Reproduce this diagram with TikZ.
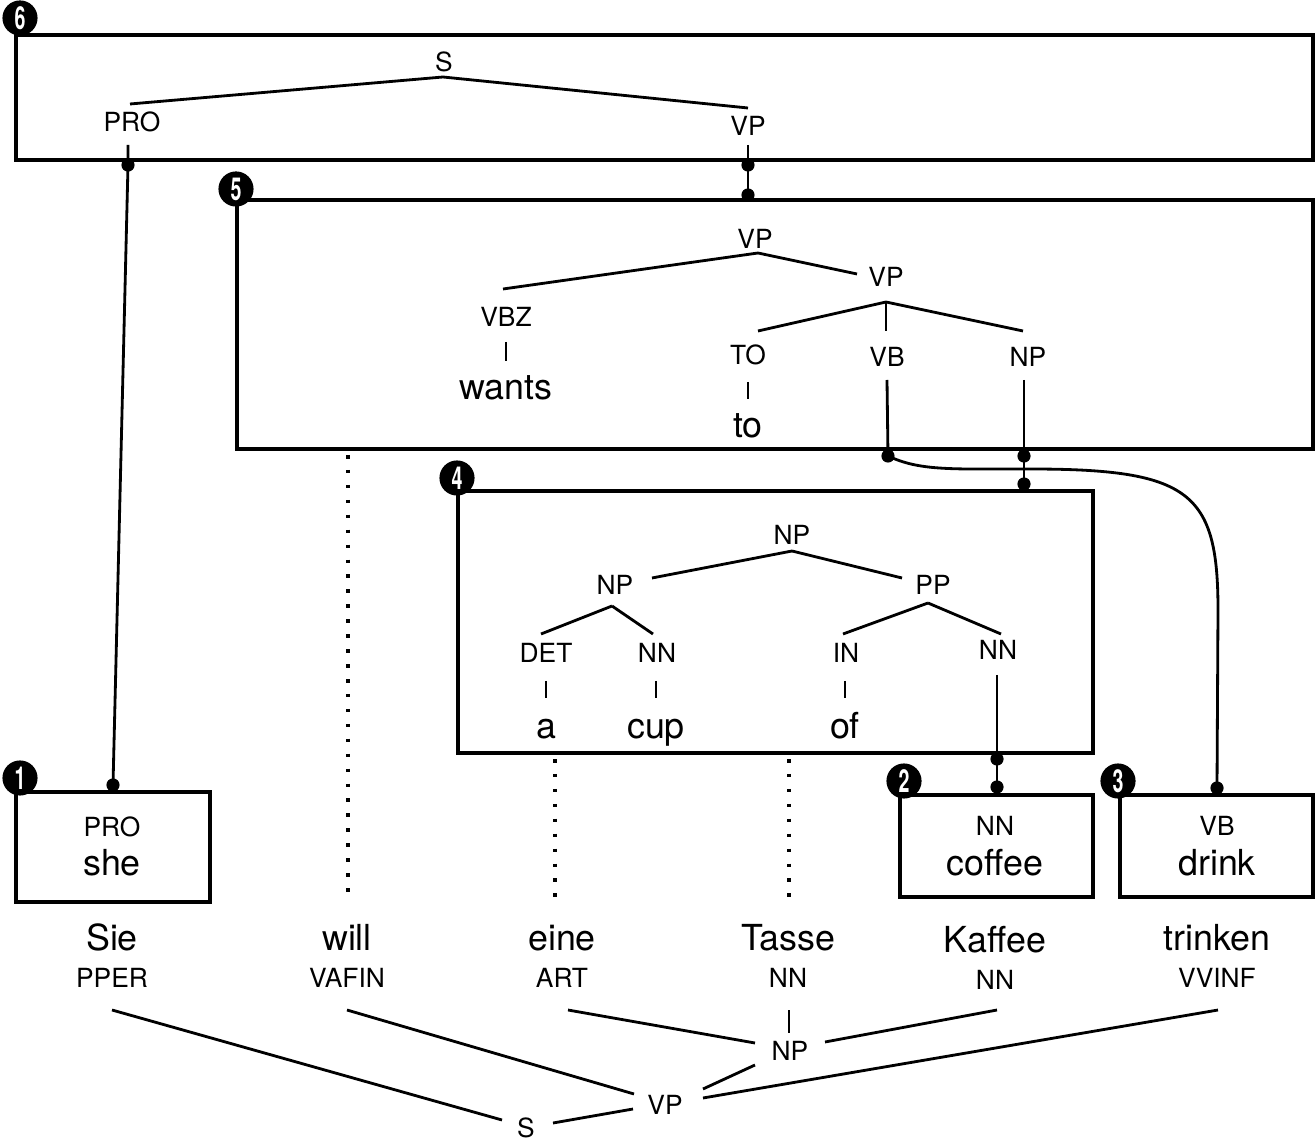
\documentclass[tikz,border=0pt]{standalone}
\usepackage{fontspec}
\setmainfont{TeX Gyre Heros}
\usetikzlibrary{calc}
\begin{document}
\begin{tikzpicture}[x=0.02cm,y=-0.02cm,
  lab/.style={anchor=base,inner sep=0pt,font=\fontsize{15}{18}\selectfont},
  wrd/.style={anchor=base,inner sep=0pt,font=\fontsize{20.4}{24}\selectfont},
  box/.style={draw,line width=1.9pt},
  edge/.style={line width=1.6pt},
  dotl/.style={line width=1.8pt,dash pattern=on 2pt off 6.5pt},
  numc/.style={circle,fill=black,text=white,minimum size=20pt,inner sep=0pt,font=\fontsize{18}{18}\selectfont\bfseries},
  dot/.style={circle,fill=black,minimum size=7.5pt,inner sep=0pt}]
\useasboundingbox (0,0) rectangle (1315,1141);

% ---------- boxes ----------
\draw[box] (16,35) rectangle (1313,160);
\draw[box] (237,200) rectangle (1313,449);
\draw[box] (458,491) rectangle (1093,753);
\draw[box] (16,792) rectangle (210,902);
\draw[box] (900,795) rectangle (1093,897);
\draw[box] (1120,795) rectangle (1313,897);
\node[numc] (c6) at (20,18) {\scalebox{0.62}[1]{6}};
\node[numc] (c5) at (236,189) {\scalebox{0.62}[1]{5}};
\node[numc] (c4) at (457,478) {\scalebox{0.62}[1]{4}};
\node[numc] (c1) at (20,778) {\scalebox{0.62}[1]{1}};
\node[numc] (c2) at (904,781) {\scalebox{0.62}[1]{2}};
\node[numc] (c3) at (1118,781) {\scalebox{0.62}[1]{3}};

% ---------- box 6 ----------
\node[lab] (s6) at (444,72) {S};
\node[lab] (pro6) at (132,132) {PRO};
\node[lab] (vp6) at (748,136) {VP};
\draw[edge] ($(s6.base)+(-1,5)$) -- ($(pro6.base)+(-2,-28)$);
\draw[edge] ($(s6.base)+(-1,5)$) -- ($(vp6.base)+(0,-28)$);

% ---------- box 5 ----------
\node[lab] (vp5a) at (755,249) {VP};
\node[lab] (vp5b) at (886,287) {VP};
\node[lab] (vbz) at (506,327) {VBZ};
\node[wrd] (wants) at (506,400) {wants};
\node[lab] (to5) at (748,365) {TO};
\node[wrd] (to) at (748,438) {to};
\node[lab] (vb5) at (887,367) {VB};
\node[lab] (np5) at (1028,367) {NP};
\draw[edge] ($(vp5a.base)+(3,4)$) -- ($(vbz.base)+(-3,-38)$);
\draw[edge] ($(vp5a.base)+(3,4)$) -- ($(vp5b.base)+(-29,-13)$);
\draw[edge] ($(vp5b.base)+(0,15)$) -- ($(to5.base)+(10,-34)$);
\draw[edge] ($(vp5b.base)+(0,15)$) -- ($(vb5.base)+(-1,-36)$);
\draw[edge] ($(vp5b.base)+(0,15)$) -- ($(np5.base)+(-5,-36)$);
\draw[edge] ($(vbz.base)+(0,15)$) -- ($(vbz.base)+(0,34)$);
\draw[edge] ($(to5.base)+(0,17)$) -- ($(to5.base)+(0,34)$);

% ---------- box 4 ----------
\node[lab] (np4) at (792,545) {NP};
\node[lab] (np4b) at (615,595) {NP};
\node[lab] (pp) at (933,595) {PP};
\node[lab] (det) at (546,663) {DET};
\node[lab] (nn4) at (657,663) {NN};
\node[lab] (in) at (846,663) {IN};
\node[lab] (nn4b) at (998,660) {NN};
\node[wrd] (a) at (546,738) {a};
\node[wrd] (cup) at (656,738) {cup};
\node[wrd] (of) at (845,738) {of};
\draw[edge] ($(np4.base)+(0,6)$) -- ($(np4b.base)+(37,-17)$);
\draw[edge] ($(np4.base)+(0,6)$) -- ($(pp.base)+(-31,-17)$);
\draw[edge] ($(np4b.base)+(-3,11)$) -- ($(det.base)+(-5,-29)$);
\draw[edge] ($(np4b.base)+(-3,11)$) -- ($(nn4.base)+(-4,-29)$);
\draw[edge] ($(pp.base)+(-5,8)$) -- ($(in.base)+(-3,-29)$);
\draw[edge] ($(pp.base)+(-5,8)$) -- ($(nn4b.base)+(3,-26)$);
\draw[edge] ($(det.base)+(0,18)$) -- ($(det.base)+(0,35)$);
\draw[edge] ($(nn4.base)+(-1,18)$) -- ($(nn4.base)+(-1,35)$);
\draw[edge] ($(in.base)+(-1,18)$) -- ($(in.base)+(-1,35)$);

% ---------- boxes 1-3 ----------
\node[lab] (pro1) at (112,836) {PRO};
\node[wrd] (she) at (112,875) {she};
\node[lab] (nn2) at (995,835) {NN};
\node[wrd] (coffee) at (995,875) {coffee};
\node[lab] (vb3) at (1217,835) {VB};
\node[wrd] (drink) at (1217,875) {drink};

% ---------- links between boxes ----------
\node[dot] (dpro6) at (128,165) {};
\node[dot] (dpro1) at (113,785) {};
\node[dot] (dvp6) at (748,165) {};
\node[dot] (dvp5) at (748,195) {};
\node[dot] (dvb5) at (888,456) {};
\node[dot] (dnp5) at (1024,456) {};
\node[dot] (dnp4) at (1024,484) {};
\node[dot] (dnn4) at (997,759) {};
\node[dot] (dnn2) at (997,787) {};
\node[dot] (dvb3) at (1217,788) {};
\draw[edge] ($(pro6.base)+(-4,13)$) -- (dpro6.center) -- (dpro1.center);
\draw[edge] ($(vp6.base)+(0,9)$) -- (dvp6.center) -- (dvp5.center);
\draw[edge] ($(vb5.base)+(0,13)$) -- (dvb5.center);
\draw[edge] ($(np5.base)+(-4,13)$) -- (dnp5.center) -- (dnp4.center);
\draw[edge] ($(nn4b.base)+(-1,15)$) -- (dnn4.center) -- (dnn2.center);
\draw[edge] (dvb5.center) .. controls (920,471) and (950,469) .. (1030,469)
  .. controls (1190,469) and (1218,492) .. (1218,610) -- (dvb3.center);

% ---------- German sentence ----------
\node[wrd] (sie) at (112,950) {Sie};
\node[lab] (pper) at (112,987) {PPER};
\node[wrd] (will) at (347,950) {will};
\node[lab] (vafin) at (347,987) {VAFIN};
\node[wrd] (eine) at (562,950) {eine};
\node[lab] (art) at (562,987) {ART};
\node[wrd] (tasse) at (788,950) {Tasse};
\node[lab] (nnt) at (788,987) {NN};
\node[wrd] (kaffee) at (995,952) {Kaffee};
\node[lab] (nnk) at (995,989) {NN};
\node[wrd] (trinken) at (1217,950) {trinken};
\node[lab] (vvinf) at (1217,987) {VVINF};

% dotted alignment lines
\draw[dotl] (348,455) -- ($(will.base)+(1,-53)$);
\draw[dotl] (555,759) -- ($(eine.base)+(-7,-53)$);
\draw[dotl] (789,759) -- ($(tasse.base)+(1,-53)$);

% ---------- bottom tree ----------
\node[lab] (sb) at (526,1137) {S};
\node[lab] (vpb) at (665,1114) {VP};
\node[lab] (npb) at (790,1060) {NP};
\draw[edge] ($(pper.base)+(0,23)$) -- ($(sb.base)+(-24,-17)$);
\draw[edge] ($(vafin.base)+(0,23)$) -- ($(vpb.base)+(-31,-20)$);
\draw[edge] ($(art.base)+(6,23)$) -- ($(npb.base)+(-35,-17)$);
\draw[edge] ($(nnt.base)+(1,23)$) -- ($(npb.base)+(-1,-27)$);
\draw[edge] ($(nnk.base)+(2,21)$) -- ($(npb.base)+(35,-18)$);
\draw[edge] ($(npb.base)+(-35,5)$) -- ($(vpb.base)+(38,-25)$);
\draw[edge] ($(vvinf.base)+(1,23)$) -- ($(vpb.base)+(38,-16)$);
\draw[edge] ($(sb.base)+(27,-14)$) -- ($(vpb.base)+(-32,-5)$);
\end{tikzpicture}
\end{document}
